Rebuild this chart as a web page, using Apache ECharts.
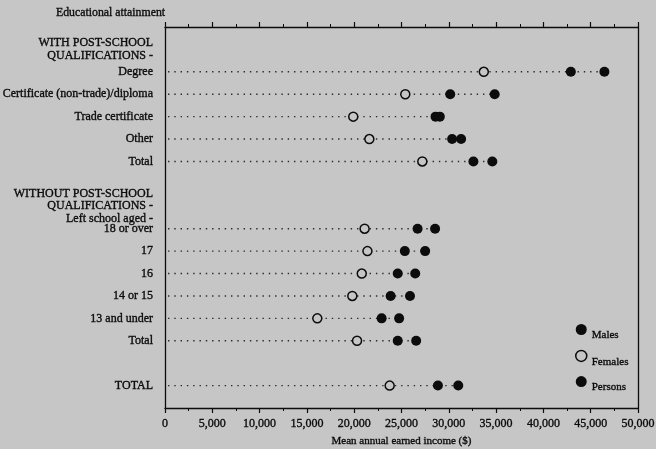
<!DOCTYPE html>
<html>
<head>
<meta charset="utf-8">
<script src="https://cdn.jsdelivr.net/npm/echarts@6/dist/echarts.min.js"></script>
<style>
html,body{margin:0;padding:0;background:#c6c6c6;}
#chart{width:656px;height:449px;}
</style>
</head>
<body>
<div id="chart"></div>
<script>
// Row labels from top (index 0) to bottom (index 17); blank rows are spacers
var categories = [
  '',
  'WITH POST-SCHOOL\nQUALIFICATIONS -',
  'Degree',
  'Certificate (non-trade)/diploma',
  'Trade certificate',
  'Other',
  'Total',
  '',
  'WITHOUT POST-SCHOOL\nQUALIFICATIONS -\nLeft school aged -',
  '18 or over',
  '17',
  '16',
  '14 or 15',
  '13 and under',
  'Total',
  '',
  'TOTAL',
  ''
];
var females = [null, null, 33700, 25400, 19900, 21600, 27200, null, null, 21100, 21400, 20800, 19800, 16100, 20300, null, 23750, null];
var persons = [null, null, 42900, 30150, 28600, 30350, 32600, null, null, 26700, 25350, 24600, 23850, 22900, 24600, null, 28850, null];
var males   = [null, null, 46450, 34850, 29050, 31300, 34600, null, null, 28550, 27500, 26450, 25900, 24750, 26550, null, 31000, null];
var xTicks = [0, 5000, 10000, 15000, 20000, 25000, 30000, 35000, 40000, 45000, 50000];
var seriesNames = ['Males', 'Females', 'Persons'];

var BG = '#c6c6c6';
var INK = '#0c0c0c';
var FONT = '"Liberation Serif", "DejaVu Serif", serif';
var THICK = {textBorderColor: INK, textBorderWidth: 0.35};

function pts(arr) {
  var out = [];
  arr.forEach(function (v, i) { if (v != null) out.push([v, i]); });
  return out;
}
var spans = [];
categories.forEach(function (c, i) {
  var vals = [females[i], persons[i], males[i]].filter(function (v) { return v != null; });
  if (vals.length) spans.push([Math.max.apply(null, vals), i]);
});
function fmt(v) { return String(v).replace(/\B(?=(\d{3})+(?!\d))/g, ','); }

var chart = echarts.init(document.getElementById('chart'), null, {renderer: 'canvas'});
var xCommon = {
  type: 'value', min: xTicks[0], max: xTicks[xTicks.length - 1], interval: xTicks[1] - xTicks[0],
  splitLine: {show: false},
  axisLine: {show: true, onZero: false, lineStyle: {color: INK, width: 1.3}},
  axisTick: {show: true, inside: false, length: 5, lineStyle: {color: INK, width: 1.2}},
  minorTick: {show: true, splitNumber: 2, length: 3, lineStyle: {color: INK, width: 1}}
};
var yCommon = {
  type: 'value', min: 0, max: categories.length - 1, interval: 1, inverse: true,
  splitLine: {show: false},
  axisTick: {show: false},
  axisLine: {show: true, onZero: false, lineStyle: {color: INK, width: 1.3}}
};
chart.setOption({
  backgroundColor: BG,
  animation: false,
  textStyle: {fontFamily: FONT, color: INK},
  title: {
    text: 'Educational attainment', left: 51, top: 2,
    textStyle: Object.assign({fontFamily: FONT, fontSize: 11.8, fontWeight: 'normal', color: INK}, THICK)
  },
  grid: {left: 165, right: 18, top: 27, bottom: 41, containLabel: false, outerBoundsMode: 'none'},
  legend: {
    orient: 'vertical', left: 570, top: 319, itemWidth: 11, itemHeight: 11, itemGap: 8.5,
    selectedMode: false,
    formatter: '{t|{name}}',
    textStyle: {
      fontFamily: FONT, fontSize: 11, color: INK,
      rich: {t: Object.assign({fontFamily: FONT, fontSize: 11, color: INK, padding: [12, 0, 0, 0]}, THICK)}
    },
    data: [
      {name: 'Males', icon: 'circle', itemStyle: {color: INK, borderWidth: 0}},
      {name: 'Females', icon: 'circle', itemStyle: {color: BG, borderColor: INK, borderWidth: 1.5}},
      {name: 'Persons', icon: 'circle', itemStyle: {color: INK, borderWidth: 0}}
    ]
  },
  xAxis: [
    Object.assign({}, xCommon, {
      position: 'bottom',
      name: 'Mean annual earned income ($)', nameLocation: 'middle', nameGap: 28,
      nameTextStyle: Object.assign({fontFamily: FONT, fontSize: 11, color: INK}, THICK),
      axisLabel: Object.assign({show: true, margin: 10, fontFamily: FONT, fontSize: 12, color: INK, formatter: fmt}, THICK)
    }),
    Object.assign({}, xCommon, {position: 'top', axisLabel: {show: false}})
  ],
  yAxis: [
    Object.assign({}, yCommon, {
      position: 'left',
      axisLabel: Object.assign({
        show: true, margin: 12, fontFamily: FONT, fontSize: 12, color: INK, lineHeight: 12.6,
        formatter: function (v) { return categories[v] || ''; }
      }, THICK)
    }),
    Object.assign({}, yCommon, {position: 'right', axisLabel: {show: false}})
  ],
  series: [
    {
      type: 'custom', name: 'guides', xAxisIndex: 0, yAxisIndex: 0, z: 1, silent: true,
      data: spans,
      renderItem: function (params, api) {
        var a = api.coord([0, api.value(1)]);
        var b = api.coord([api.value(0), api.value(1)]);
        return {
          type: 'line',
          shape: {x1: a[0] + 3, y1: a[1], x2: b[0], y2: b[1]},
          style: {stroke: '#2a2a2a', lineWidth: 1.4, lineDash: [1.4, 4.9]}
        };
      }
    },
    {
      type: 'scatter', name: 'Females', data: pts(females), symbol: 'circle', symbolSize: 9, z: 3,
      itemStyle: {color: BG, borderColor: INK, borderWidth: 1.5, opacity: 1}
    },
    {
      type: 'scatter', name: 'Persons', data: pts(persons), symbol: 'circle', symbolSize: 10, z: 3,
      itemStyle: {color: INK, opacity: 1}
    },
    {
      type: 'scatter', name: 'Males', data: pts(males), symbol: 'circle', symbolSize: 10, z: 3,
      itemStyle: {color: INK, opacity: 1}
    }
  ]
});
</script>
</body>
</html>
